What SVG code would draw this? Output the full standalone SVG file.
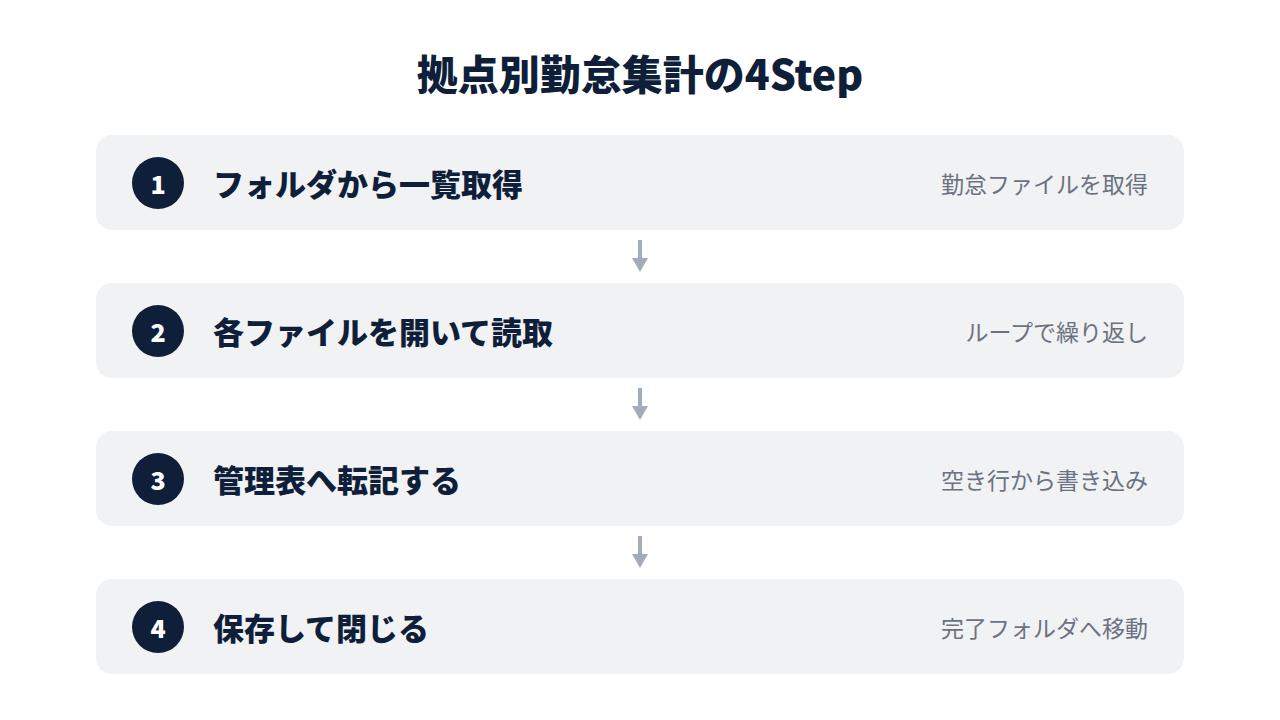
<svg xmlns="http://www.w3.org/2000/svg" width="1280" height="720" viewBox="0 0 1280 720">
<style>
.card{fill:#f1f2f4}
.num{fill:#0f1f3a}
.numt{fill:#ffffff;font-family:"Noto Sans CJK JP","Noto Sans",sans-serif;font-weight:900;font-size:25px;text-anchor:middle}
.lbl{fill:#0f1f3a;font-family:"Noto Sans CJK JP",sans-serif;font-weight:900;font-size:31px}
.sub{fill:#6b7280;font-family:"Noto Sans CJK JP",sans-serif;font-size:23px;text-anchor:end}
.title{fill:#0f1f3a;font-family:"Noto Sans CJK JP",sans-serif;font-weight:900;font-size:41px;text-anchor:middle}
.conn{stroke:#a3acbb;stroke-width:4;fill:none}
</style>
<defs>
<marker id="ah" viewBox="0 0 14 16" refX="0" refY="8" markerWidth="14" markerHeight="16" markerUnits="userSpaceOnUse" orient="auto">
<path d="M0,0 L14,8 L0,16 Z" fill="#a3acbb"/>
</marker>
</defs>
<rect width="1280" height="720" fill="#ffffff"/>
<text class="title" x="640" y="90">拠点別勤怠集計の4Step</text>
<g id="connectors">
<line class="conn" x1="640" y1="240" x2="640" y2="258" marker-end="url(#ah)"/>
<line class="conn" x1="640" y1="388" x2="640" y2="406" marker-end="url(#ah)"/>
<line class="conn" x1="640" y1="536" x2="640" y2="554" marker-end="url(#ah)"/>
</g>
<g id="step1">
<rect class="card" x="96" y="135" width="1088" height="95" rx="16"/>
<circle class="num" cx="158" cy="183" r="26"/>
<text class="numt" x="158" y="194">1</text>
<text class="lbl" x="213" y="196">フォルダから一覧取得</text>
<text class="sub" x="1148" y="193">勤怠ファイルを取得</text>
</g>
<g id="step2">
<rect class="card" x="96" y="283" width="1088" height="95" rx="16"/>
<circle class="num" cx="158" cy="331" r="26"/>
<text class="numt" x="158" y="342">2</text>
<text class="lbl" x="213" y="344">各ファイルを開いて読取</text>
<text class="sub" x="1148" y="341">ループで繰り返し</text>
</g>
<g id="step3">
<rect class="card" x="96" y="431" width="1088" height="95" rx="16"/>
<circle class="num" cx="158" cy="479" r="26"/>
<text class="numt" x="158" y="490">3</text>
<text class="lbl" x="213" y="492">管理表へ転記する</text>
<text class="sub" x="1148" y="489">空き行から書き込み</text>
</g>
<g id="step4">
<rect class="card" x="96" y="579" width="1088" height="95" rx="16"/>
<circle class="num" cx="158" cy="627" r="26"/>
<text class="numt" x="158" y="638">4</text>
<text class="lbl" x="213" y="640">保存して閉じる</text>
<text class="sub" x="1148" y="637">完了フォルダへ移動</text>
</g>
</svg>
